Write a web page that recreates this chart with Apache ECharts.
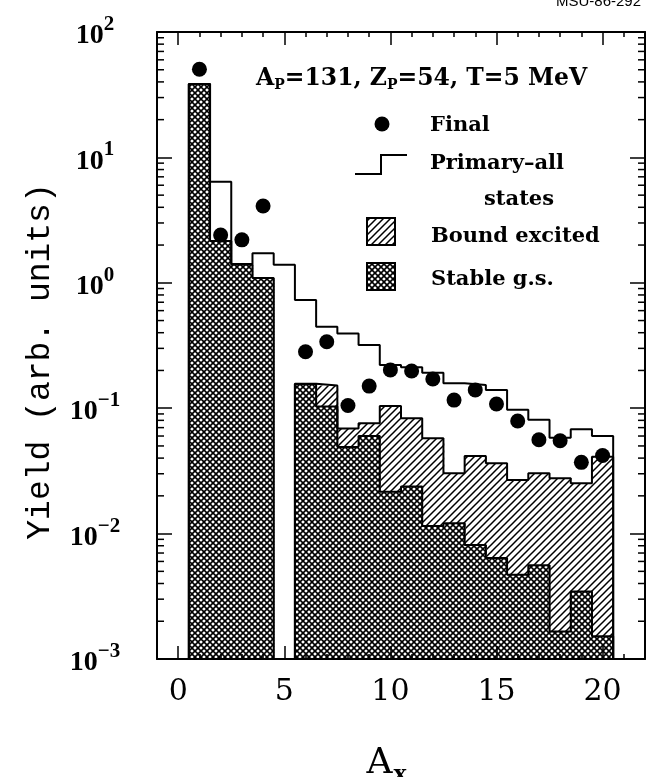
<!DOCTYPE html>
<html><head><meta charset="utf-8">
<script src="https://cdn.jsdelivr.net/npm/echarts@6/dist/echarts.min.js"></script>
<style>html,body{margin:0;padding:0;background:#fff}#c{width:646px;height:777px}</style>
</head><body><div id="c"></div>
<script>
// ---------------- data ----------------
const A = [1,2,3,4,5,6,7,8,9,10,11,12,13,14,15,16,17,18,19,20];
const finalYield   = [50.5, 2.4, 2.2, 4.1, null, 0.282, 0.339, 0.105, 0.150, 0.202, 0.198, 0.171, 0.116, 0.140, 0.108, 0.079, 0.056, 0.055, 0.037, 0.042];
const primaryAll   = [38.5, 6.4, 1.41, 1.72, 1.39, 0.73, 0.447, 0.395, 0.319, 0.221, 0.212, 0.192, 0.158, 0.153, 0.140, 0.097, 0.081, 0.058, 0.068, 0.060];
const boundExcited = [null, null, null, null, null, 0.157, 0.152, 0.069, 0.076, 0.104, 0.083, 0.0575, 0.0303, 0.0416, 0.0364, 0.0267, 0.0303, 0.0276, 0.0252, 0.041];
const stableGS     = [38.5, 2.15, 1.40, 1.09, null, 0.156, 0.103, 0.049, 0.060, 0.0216, 0.0237, 0.0115, 0.0121, 0.0081, 0.0064, 0.0047, 0.0056, 0.00166, 0.00345, 0.00152];
const xTickValues = [0, 5, 10, 15, 20];
const yTickExponents = [-3, -2, -1, 0, 1, 2];
const xMin = -1, xMax = 22, yMin = 1e-3, yMax = 1e2;

// ---------------- patterns ----------------
function makePattern(kind) {
  const s = kind === 'hatch' ? 7 : 6;
  const c = document.createElement('canvas');
  c.width = s; c.height = s;
  const g = c.getContext('2d');
  g.fillStyle = '#fff'; g.fillRect(0, 0, s, s);
  g.strokeStyle = '#000';
  g.beginPath();
  if (kind === 'hatch') {
    g.lineWidth = 1.5;
    g.moveTo(-1, s + 1); g.lineTo(s + 1, -1);
    g.moveTo(-2, 2); g.lineTo(2, -2);
    g.moveTo(s - 2, s + 2); g.lineTo(s + 2, s - 2);
  } else {
    g.lineWidth = 1.6;
    g.moveTo(-1, -1); g.lineTo(s + 1, s + 1);
    g.moveTo(-1, s + 1); g.lineTo(s + 1, -1);
  }
  g.stroke();
  return c;
}
const hatchFill = { image: makePattern('hatch'), repeat: 'repeat' };
const crossFill = { image: makePattern('cross'), repeat: 'repeat' };

// ---------------- helpers ----------------
function outlineRuns(vals) {
  const out = []; let cur = null;
  A.forEach((a, i) => {
    const v = vals[i];
    if (v == null) {
      if (cur) { cur.push([A[i - 1] + 0.5, yMin]); out.push(cur); cur = null; }
      return;
    }
    if (!cur) cur = [[a - 0.5, yMin]];
    cur.push([a - 0.5, v], [a + 0.5, v]);
  });
  if (cur) { cur.push([A[A.length - 1] + 0.5, yMin]); out.push(cur); }
  return out;
}
function outlineSeries(vals, z) {
  return outlineRuns(vals).map(run => ({
    type: 'line', xAxisIndex: 0, yAxisIndex: 0, data: run, symbol: 'none', z: z,
    silent: true, animation: false,
    lineStyle: { color: '#000', width: 2 }
  }));
}
function rectSeries(vals, fill, z) {
  return {
    type: 'custom', xAxisIndex: 0, yAxisIndex: 0, z: z, silent: true, animation: false,
    data: A.map((a, i) => [a, vals[i]]).filter(d => d[1] != null),
    encode: { x: 0, y: 1 },
    renderItem(params, api) {
      const a = api.value(0), v = api.value(1);
      const tl = api.coord([a - 0.5, v]);
      const br = api.coord([a + 0.5, yMin]);
      return { type: 'rect', shape: { x: tl[0], y: tl[1], width: br[0] - tl[0] + 0.8, height: br[1] - tl[1] },
               style: { fill: fill, stroke: null } };
    }
  };
}
const yMinorVals = [];
yTickExponents.slice(0, -1).forEach(e => { for (let k = 2; k <= 9; k++) yMinorVals.push(k * Math.pow(10, e)); });
const xMinorVals = [];
for (let x = Math.ceil(xMin); x <= xMax; x++) xMinorVals.push(x);

const font = '"DejaVu Serif"';
const tickStyle = { color: '#000', width: 1.5 };

const baseX = {
  type: 'value', min: xMin, max: xMax, splitLine: { show: false }, z: 10
};
const option = {
  animation: false,
  backgroundColor: '#fff',
  grid: { left: 157, right: 1, top: 32, bottom: 118, containLabel: false, outerBoundsMode: 'none' },
  xAxis: [
    Object.assign({}, baseX, { position: 'bottom', interval: 1,
      axisLine: { show: true, onZero: false, lineStyle: { color: '#000', width: 2 } },
      axisTick: { show: true, inside: true, length: 5, customValues: xMinorVals, lineStyle: tickStyle },
      axisLabel: { show: false },
      name: '{a|A}{s|x}', nameLocation: 'middle', nameGap: 85,
      nameTextStyle: { padding: [0, 29, 0, 0], rich: {
        a: { fontFamily: font, fontSize: 36, color: '#000', lineHeight: 40 },
        s: { fontFamily: font, fontWeight: 'bold', fontSize: 22, color: '#000', verticalAlign: 'bottom', lineHeight: 22, padding: [0, 0, -2, 1] } } } }),
    Object.assign({}, baseX, { position: 'bottom',
      axisLine: { show: false, onZero: false },
      axisTick: { show: true, inside: true, length: 13, customValues: xTickValues, lineStyle: tickStyle },
      axisLabel: { show: true, customValues: xTickValues, fontFamily: font, fontSize: 30, color: '#000', margin: 18,
        formatter: v => (xTickValues.indexOf(v) >= 0 ? String(v) : '') } }),
    Object.assign({}, baseX, { position: 'top', interval: 1,
      axisLine: { show: true, onZero: false, lineStyle: { color: '#000', width: 2 } },
      axisTick: { show: true, inside: true, length: 5, customValues: xMinorVals, lineStyle: tickStyle },
      axisLabel: { show: false } }),
    Object.assign({}, baseX, { position: 'top',
      axisLine: { show: false, onZero: false },
      axisTick: { show: true, inside: true, length: 13, customValues: xTickValues, lineStyle: tickStyle },
      axisLabel: { show: false } })
  ],
  yAxis: [
    { type: 'log', logBase: 10, min: yMin, max: yMax, position: 'left', z: 10,
      axisLine: { show: true, onZero: false, lineStyle: { color: '#000', width: 2 } },
      axisTick: { show: true, inside: true, length: 15, lineStyle: tickStyle },
      splitLine: { show: false },
      axisLabel: { show: true, align: 'center', margin: 62,
        formatter: v => { const e = Math.round(Math.log10(v)); return '{b|10}{s|' + (e < 0 ? '\u2212' + (-e) : e) + '}'; },
        rich: {
          b: { fontFamily: 'Liberation Serif', fontWeight: 'bold', fontSize: 28, color: '#000', lineHeight: 36, verticalAlign: 'bottom' },
          s: { fontFamily: 'Liberation Serif', fontWeight: 'bold', fontSize: 21, color: '#000', lineHeight: 20, verticalAlign: 'top' }
        } },
      name: 'Yield (arb. units)', nameLocation: 'middle', nameGap: 100,
      nameTextStyle: { fontFamily: 'Liberation Mono', fontSize: 33, color: '#000', padding: [0, 32, 0, 0] } },
    { type: 'log', logBase: 10, min: yMin, max: yMax, position: 'right', z: 10,
      axisLine: { show: true, onZero: false, lineStyle: { color: '#000', width: 2 } },
      axisTick: { show: true, inside: true, length: 15, lineStyle: tickStyle },
      splitLine: { show: false }, axisLabel: { show: false } }
  ],
  series: [].concat(
    [rectSeries(boundExcited, hatchFill, 2), rectSeries(stableGS, crossFill, 3)],
    outlineSeries(boundExcited, 4),
    outlineSeries(stableGS, 4),
    outlineSeries(primaryAll, 5),
    [{
      type: 'scatter', xAxisIndex: 0, yAxisIndex: 0, z: 6, symbol: 'circle', symbolSize: 15,
      itemStyle: { color: '#000', opacity: 1 },
      data: A.map((a, i) => [a, finalYield[i]]).filter(d => d[1] != null)
    }, {
      type: 'custom', xAxisIndex: 0, yAxisIndex: 0, z: 20, silent: true,
      data: yMinorVals.map(v => [0, v]), encode: { x: 0, y: 1 },
      renderItem(params, api) {
        const v = api.value(1);
        const l = api.coord([xMin, v]), r = api.coord([xMax, v]);
        return { type: 'group', children: [
          { type: 'line', shape: { x1: l[0], y1: l[1], x2: l[0] + 7, y2: l[1] }, style: { stroke: '#000', lineWidth: 1.5 } },
          { type: 'line', shape: { x1: r[0] - 7, y1: r[1], x2: r[0], y2: r[1] }, style: { stroke: '#000', lineWidth: 1.5 } }
        ] };
      }
    }]
  ),
  graphic: [
    { type: 'text', x: 641, y: 2, style: { text: 'MSU-86-292', font: '15px "Liberation Sans"', fill: '#000', align: 'right', verticalAlign: 'middle' } },
    { type: 'text', x: 256, y: 79, style: {
        text: '{a|A}{s|P}{a|=131, }{a|Z}{s|P}{a|=54, T=5 MeV}', align: 'left', verticalAlign: 'middle',
        rich: {
          a: { fontFamily: font, fontWeight: 'bold', fontSize: 23.5, fill: '#000', lineHeight: 27 },
          s: { fontFamily: font, fontWeight: 'bold', fontSize: 14, fill: '#000', lineHeight: 14, verticalAlign: 'bottom' }
        } } },
    { type: 'circle', shape: { cx: 382, cy: 124, r: 7.5 }, style: { fill: '#000' } },
    { type: 'text', x: 430, y: 126, style: { text: 'Final', font: 'bold 21px "DejaVu Serif"', fill: '#000', verticalAlign: 'middle' } },
    { type: 'polyline', shape: { points: [[355, 174], [381, 174], [381, 155], [407, 155]] }, style: { stroke: '#000', lineWidth: 2, fill: null } },
    { type: 'text', x: 430, y: 163.5, style: { text: 'Primary\u2013all', font: 'bold 21px "DejaVu Serif"', fill: '#000', verticalAlign: 'middle' } },
    { type: 'text', x: 484, y: 200, style: { text: 'states', font: 'bold 21px "DejaVu Serif"', fill: '#000', verticalAlign: 'middle' } },
    { type: 'rect', shape: { x: 367, y: 218, width: 28, height: 27 }, style: { fill: hatchFill, stroke: '#000', lineWidth: 2 } },
    { type: 'text', x: 431, y: 237, style: { text: 'Bound excited', font: 'bold 21px "DejaVu Serif"', fill: '#000', verticalAlign: 'middle' } },
    { type: 'rect', shape: { x: 367, y: 263, width: 28, height: 27 }, style: { fill: crossFill, stroke: '#000', lineWidth: 2 } },
    { type: 'text', x: 431, y: 279.5, style: { text: 'Stable g.s.', font: 'bold 21px "DejaVu Serif"', fill: '#000', verticalAlign: 'middle' } }
  ]
};
const chart = echarts.init(document.getElementById('c'), null, { renderer: 'canvas' });
chart.setOption(option);
</script>
</body></html>
